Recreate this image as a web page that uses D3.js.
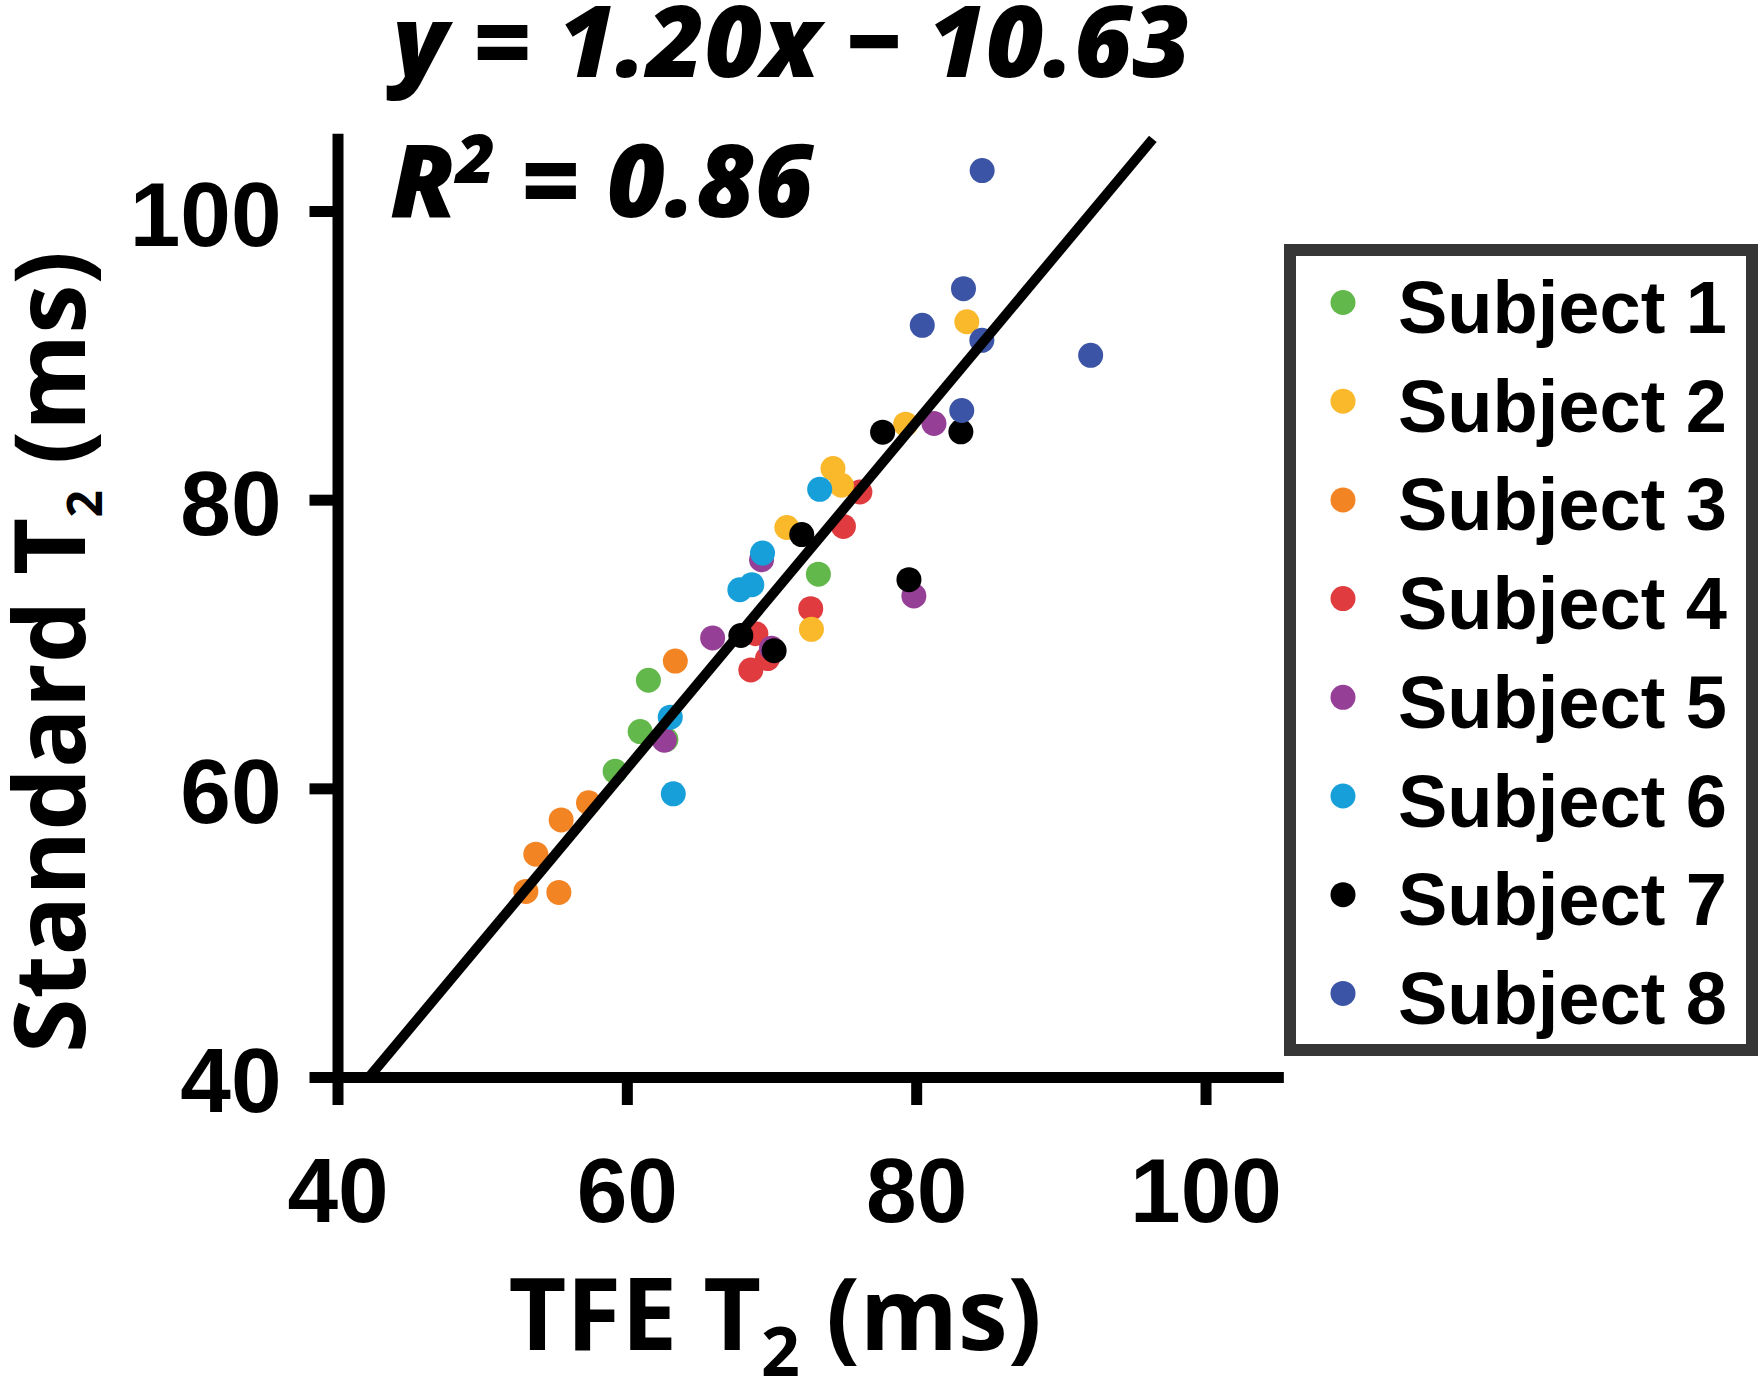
<!DOCTYPE html>
<html><head><meta charset="utf-8">
<script src="https://cdn.jsdelivr.net/npm/d3@7"></script>
<style>body{margin:0;background:#fff} svg{display:block}</style>
</head><body>
<svg id="c" width="1761" height="1383"></svg>
<script>
// ---------- data (TFE T2, Standard T2) ----------
const subjectNames = ["Subject 1","Subject 2","Subject 3","Subject 4","Subject 5","Subject 6","Subject 7","Subject 8"];
const subjectColors = ["#62b84b","#fab82b","#f38424","#e03b3f","#953f96","#169fd9","#000000","#3b54a5"];
const subject1 = [[73.24,74.84],[61.49,67.49],[60.92,63.93],[62.70,63.38],[59.19,61.18]];
const subject2 = [[83.50,92.33],[79.27,85.23],[74.25,82.16],[74.83,81.00],[71.06,78.07],[72.76,71.02]];
const subject3 = [[63.35,68.82],[57.35,59.00],[55.46,57.81],[53.71,55.44],[53.02,52.86],[55.30,52.79]];
const subject4 = [[76.11,80.53],[74.97,78.15],[72.71,72.45],[68.92,70.71],[69.72,68.99],[68.57,68.20]];
const subject5 = [[81.23,85.28],[79.84,73.33],[69.31,75.84],[65.93,70.42],[70.00,69.70],[62.59,63.33]];
const subject6 = [[73.33,80.72],[69.38,76.30],[68.64,74.11],[67.81,73.76],[63.00,64.93],[63.21,59.62]];
const subject7 = [[77.68,84.68],[83.09,84.70],[72.09,77.58],[79.50,74.46],[67.88,70.59],[70.18,69.54]];
const subject8 = [[84.56,102.80],[83.27,94.62],[80.42,92.08],[84.54,91.04],[92.06,90.00],[83.15,86.18]];
const allSubjects = [subject1,subject2,subject3,subject4,subject5,subject6,subject7,subject8];
const drawOrder = [0,3,1,2,4,5,6,7];
const xTicks = [40,60,80,100];
const yTicks = [40,60,80,100];
const xDomain = [40,105];
const yDomain = [40,105];
const fitSlope = 1.20, fitIntercept = -10.63;
const equationText = "y = 1.20x \u2212 10.63";
const r2Value = "0.86";

// ---------- layout ----------
const svg = d3.select("#c");
const x = d3.scaleLinear().domain(xDomain).range([337.5, 337.5 + 65*14.467]);
const y = d3.scaleLinear().domain(yDomain).range([1077, 1077 - 65*14.433]);
const tickFont = "'Liberation Sans', Arial, sans-serif";
const titleFont = "'Open Sans', 'Noto Sans', sans-serif";

// dots
const g = svg.append("g");
drawOrder.forEach(i => {
  g.selectAll(null).data(allSubjects[i]).enter().append("circle")
    .attr("cx", d => x(d[0])).attr("cy", d => y(d[1])).attr("r", 12.5)
    .attr("fill", subjectColors[i]);
});

// regression line (within domain)
const fx0 = (yDomain[0] - fitIntercept) / fitSlope;
const fx1 = (yDomain[1] - fitIntercept) / fitSlope;
svg.append("line")
  .attr("x1", x(fx0)).attr("y1", y(fitSlope*fx0 + fitIntercept))
  .attr("x2", x(fx1)).attr("y2", y(fitSlope*fx1 + fitIntercept))
  .attr("stroke", "#000").attr("stroke-width", 10);

// axes
const xAxis = svg.append("g").attr("transform", `translate(0,${y(40)})`)
  .call(d3.axisBottom(x).tickValues(xTicks).tickSize(28).tickSizeOuter(0).tickPadding(52).tickFormat(d3.format("d")));
const yAxis = svg.append("g").attr("transform", `translate(${x(40)},0)`)
  .call(d3.axisLeft(y).tickValues(yTicks).tickSize(28).tickSizeOuter(0).tickPadding(28).tickFormat(d3.format("d")));
[xAxis, yAxis].forEach(a => {
  a.select(".domain").attr("stroke", "#000").attr("stroke-width", 11).attr("stroke-linecap", "square");
  a.selectAll(".tick line").attr("stroke", "#000").attr("stroke-width", 11);
  a.selectAll(".tick text").attr("fill", "#000")
    .style("font-family", tickFont).style("font-weight", "bold").style("font-size", "91px");
});
yAxis.selectAll(".tick text").attr("dy", "0.38em");

// axis titles
const xt = svg.append("text").attr("x", 775).attr("y", 1350).attr("text-anchor", "middle")
  .style("font-family", titleFont).style("font-weight", "bold").style("font-size", "100px");
xt.append("tspan").text("TFE T");
xt.append("tspan").attr("dy", 26).style("font-size", "68px").text("2");
xt.append("tspan").attr("dy", -26).text(" (ms)");

const yt = svg.append("text").attr("transform", "translate(85,652) rotate(-90)").attr("text-anchor", "middle")
  .style("font-family", titleFont).style("font-weight", "bold").style("font-size", "99px");
yt.append("tspan").text("Standard T");
yt.append("tspan").attr("dy", 17).style("font-size", "48px").text("2");
yt.append("tspan").attr("dy", -17).text(" (ms)");

// equation + R^2
svg.append("text").attr("x", 393).attr("y", 77)
  .style("font-family", titleFont).style("font-weight", "800").style("font-style", "italic").style("font-size", "100px")
  .text(equationText);
const r2 = svg.append("text").attr("x", 390).attr("y", 217)
  .style("font-family", titleFont).style("font-weight", "800").style("font-style", "italic").style("font-size", "101px");
r2.append("tspan").text("R");
r2.append("tspan").attr("dy", -34).style("font-size", "68px").text("2");
r2.append("tspan").attr("dy", 34).text(" = " + r2Value);

// legend
const lg = svg.append("g");
lg.append("rect").attr("x", 1290).attr("y", 250).attr("width", 462).attr("height", 800)
  .attr("fill", "#fff").attr("stroke", "#363636").attr("stroke-width", 12);
const rowH = 98.7;
subjectNames.forEach((name, i) => {
  lg.append("circle").attr("cx", 1343).attr("cy", 302.5 + i*rowH).attr("r", 12.5).attr("fill", subjectColors[i]);
  lg.append("text").attr("x", 1398).attr("y", 333 + i*rowH)
    .style("font-family", tickFont).style("font-weight", "bold").style("font-size", "74px").text(name);
});
</script>
</body></html>
